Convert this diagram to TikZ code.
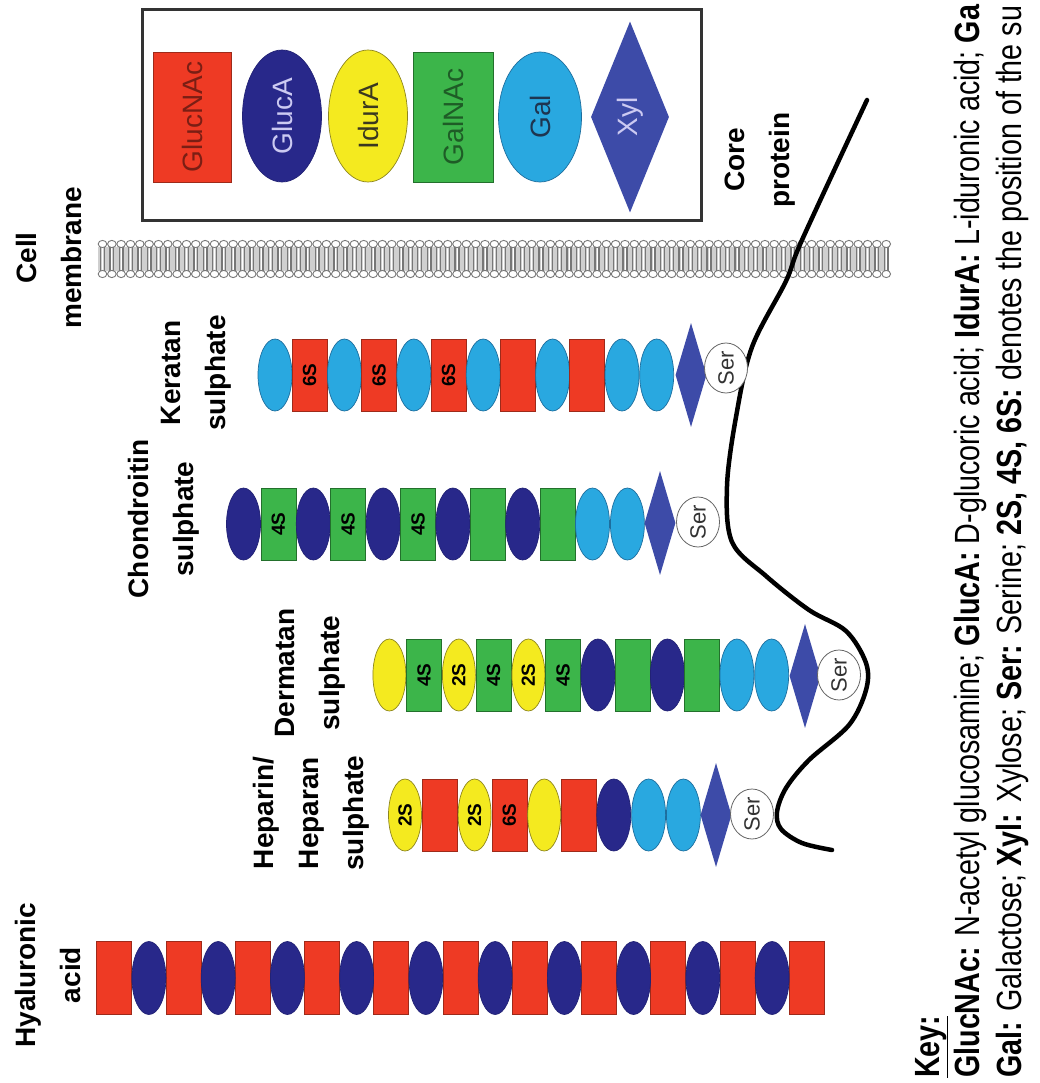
\documentclass[tikz,border=0pt]{standalone}
\usepackage{fontspec}
\setmainfont{Liberation Sans}
\newfontfamily\keyfont{Liberation Sans}[FakeStretch=0.82]
\usetikzlibrary{shapes.geometric}

\definecolor{gnred}{HTML}{EE3A24}
\definecolor{gnedge}{HTML}{9E2A1A}
\definecolor{gablue}{HTML}{28288A}
\definecolor{idyel}{HTML}{F4EA1F}
\definecolor{idedge}{HTML}{8E861E}
\definecolor{glgreen}{HTML}{3CB54A}
\definecolor{gledge}{HTML}{23702C}
\definecolor{galblue}{HTML}{29A8E0}
\definecolor{galedge}{HTML}{1D6E9E}
\definecolor{xylblue}{HTML}{3D4BA8}
\definecolor{lipid}{HTML}{777777}
\definecolor{gntext}{HTML}{7A1E14}
\definecolor{patext}{HTML}{CCCAF2}
\definecolor{idtext}{HTML}{3A3820}
\definecolor{gltext}{HTML}{1E5C26}
\definecolor{galtext}{HTML}{1E3550}

\newcommand\fs[2]{\fontsize{#1}{#2}\selectfont}

\tikzset{
  sugar/.style={rotate=90, inner sep=0pt, line width=0.7pt, font=\bfseries\fs{19}{19}},
  u-gn/.style={sugar, rectangle, fill=gnred, draw=gnedge, minimum width=72, minimum height=35},
  u-ga/.style={sugar, ellipse, fill=gablue, draw=gablue!85!black, minimum width=72, minimum height=34},
  u-id/.style={sugar, ellipse, fill=idyel, draw=idedge, minimum width=72, minimum height=33},
  u-gl/.style={sugar, rectangle, fill=glgreen, draw=gledge, minimum width=72, minimum height=35},
  u-gal/.style={sugar, ellipse, fill=galblue, draw=galedge, minimum width=72, minimum height=34},
  xylunit/.style={diamond, rotate=90, fill=xylblue, inner sep=0pt, minimum width=104, minimum height=31},
  ser/.style={ellipse, rotate=90, draw=black!60, fill=white, line width=0.8pt,
    minimum width=50, minimum height=43, inner sep=0pt, font=\fs{22}{22}, text=black!80},
  title/.style={rotate=90, align=center, font=\bfseries\fs{28}{45}},
  keyline/.style={rotate=90, anchor=base west, inner sep=0pt, font=\keyfont\fs{35}{35}},
  legendtext/.style={font=\fs{28}{28}},
  protein/.style={line width=4.5pt, line cap=round, line join=round},
}

\begin{document}
\begin{tikzpicture}[x=1pt, y=-1pt]
\useasboundingbox (0,0) rectangle (1039,1083);
\clip (0,0) rectangle (1039,1083);
\fill[white] (0,0) rectangle (1039,1083);

% legend box with the six monosaccharides
\node[draw=black!80, line width=3pt, minimum width=559, minimum height=211, inner sep=0pt] (legend) at (421.5,115.5) {};
\node[u-gn, legendtext, text=gntext, minimum width=130, minimum height=78] (lgn) at (192,117) {GlucNAc};
\node[u-ga, legendtext, text=patext, minimum width=132, minimum height=79] (lga) at (282,116) {GlucA};
\node[u-id, legendtext, text=idtext, minimum width=132, minimum height=79] (lid) at (368,116) {IdurA};
\node[u-gl, legendtext, text=gltext, minimum width=130, minimum height=80] (lgl) at (453,117) {GalNAc};
\node[u-gal, legendtext, text=galtext, minimum width=130, minimum height=83] (lgal) at (540,117) {Gal};
\node[xylunit, legendtext, text=patext, minimum width=191, minimum height=78] (lxyl) at (630,117) {Xyl};

% lipid bilayer
\fill[lipid!35] (98,247) rectangle (887,271);
\foreach \i in {0,...,84} {
  \pgfmathsetmacro\mx{102.5+9.33*\i}
  \draw[lipid, line width=1.3pt] (\mx-1.9,247) -- (\mx-1.9,271) (\mx+1.9,247) -- (\mx+1.9,271);
  \draw[white, line width=0.9pt] (\mx,248) -- (\mx,270);
  \draw[lipid, line width=0.9pt, fill=white] (\mx,244) ellipse [x radius=4.3, y radius=3.6];
  \draw[lipid, line width=0.9pt, fill=white] (\mx,274) ellipse [x radius=4.3, y radius=3.6];
}

% chain labels
\node[title] (lmem) at (49,258) {Cell\\membrane};
\node[title] (lker) at (196,373) {Keratan\\sulphate};
\node[title] (lcho) at (164,519) {Chondroitin\\sulphate};
\node[title] (lder) at (310,673) {Dermatan\\sulphate};
\node[title] (lhep) at (311,813) {Heparin/\\Heparan\\sulphate};
\node[title] (lhya) at (48,975) {Hyaluronic\\acid};
\node[title] (lcore) at (760,160) {Core\\protein};

% core protein
\draw[protein] plot[smooth, tension=0.55] coordinates {
  (867,100) (802,240) (786,281) (752,347) (736,417) (727,486) (732,542)
  (766,576) (809,610) (846,631) (866,663) (866,690) (849,725) (809,760)
  (786,788) (777,812) (781,829) (802,843) (832,850)};

% keratan sulphate
\foreach \t/\l [count=\i] in {u-gal/{},u-gn/6S,u-gal/{},u-gn/6S,u-gal/{},u-gn/6S,u-gal/{},u-gn/{},u-gal/{},u-gn/{},u-gal/{},u-gal/{}}
  \node[\t] (ks\i) at ({275+34.7*(\i-1)},375) {\l};
\node[xylunit] (ksx) at (691,375) {};
\node[ser] (kss) at (726,368) {Ser};

% chondroitin sulphate
\foreach \t/\l [count=\i] in {u-ga/{},u-gl/4S,u-ga/{},u-gl/4S,u-ga/{},u-gl/4S,u-ga/{},u-gl/{},u-ga/{},u-gl/{},u-gal/{},u-gal/{}}
  \node[\t] (cs\i) at ({243.5+34.9*(\i-1)},524) {\l};
\node[xylunit] (csx) at (660,523) {};
\node[ser] (css) at (698,522) {Ser};

% dermatan sulphate
\foreach \t/\l [count=\i] in {u-id/{},u-gl/4S,u-id/2S,u-gl/4S,u-id/2S,u-gl/4S,u-ga/{},u-gl/{},u-ga/{},u-gl/{},u-gal/{},u-gal/{}}
  \node[\t] (ds\i) at ({389.4+34.75*(\i-1)},675) {\l};
\node[xylunit] (dsx) at (805,676) {};
\node[ser] (dss) at (839,675) {Ser};

% heparin / heparan sulphate
\foreach \t/\l [count=\i] in {u-id/2S,u-gn/{},u-id/2S,u-gn/6S,u-id/{},u-gn/{},u-ga/{},u-gal/{},u-gal/{}}
  \node[\t] (hs\i) at ({405+34.8*(\i-1)},815) {\l};
\node[xylunit] (hsx) at (716,815) {};
\node[ser] (hss) at (752,814) {Ser};

% hyaluronic acid
\foreach \i in {0,2,...,20}
  \node[u-gn, minimum width=73] (ha\i) at ({114.3+34.62*\i},978) {};
\foreach \i in {1,3,...,19}
  \node[u-ga, minimum width=73] (ha\i) at ({114.3+34.62*\i},978) {};

% key
\node[keyline, font=\keyfont\bfseries\fs{35}{35}] (key) at (939,1078) {\underline{Key:}};
\node[keyline] (key1) at (979,1078) {\textbf{GlucNAc:} N-acetyl glucosamine; \textbf{GlucA:} D-glucoric acid; \textbf{IdurA:} L-iduronic acid; \textbf{Ga}};
\node[keyline] (key2) at (1021,1078) {\textbf{Gal:} Galactose; \textbf{Xyl:} Xylose; \textbf{Ser:} Serine; \textbf{2S, 4S, 6S:} denotes the position of the su};
\end{tikzpicture}
\end{document}
